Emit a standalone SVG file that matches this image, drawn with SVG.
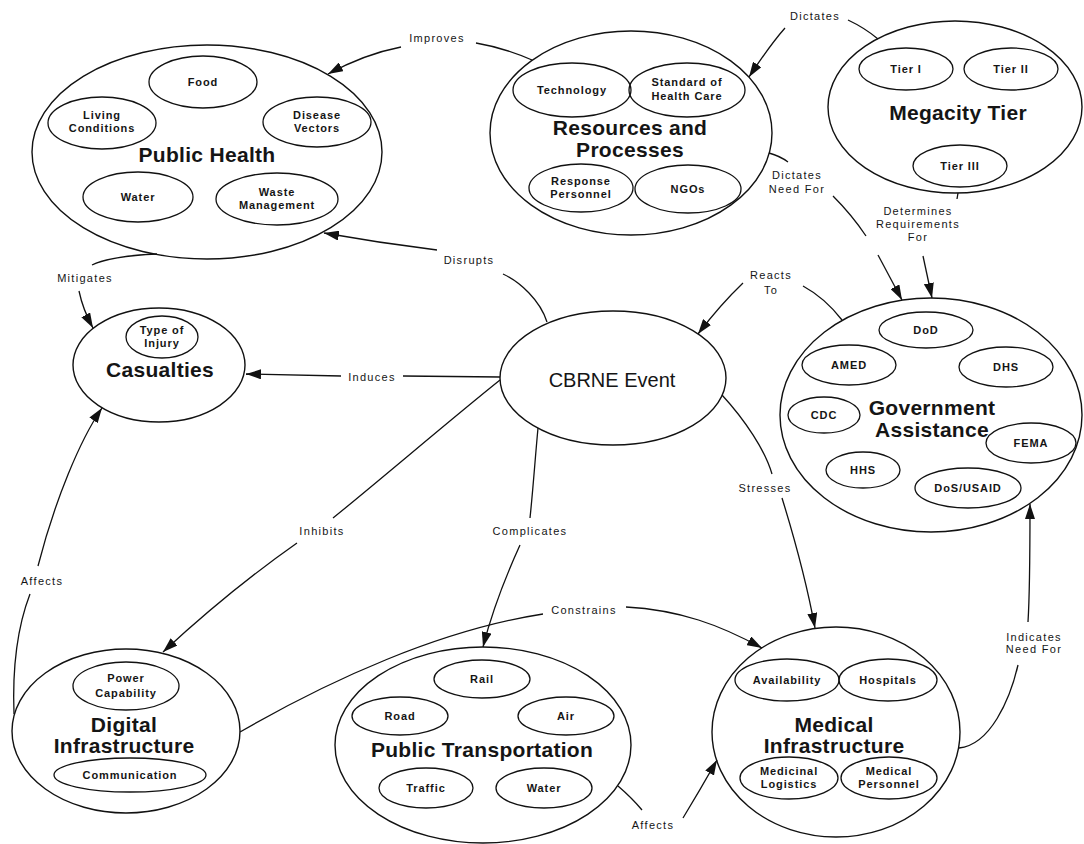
<svg xmlns="http://www.w3.org/2000/svg" width="1084" height="844" viewBox="0 0 1084 844">
<defs>
<style>
.o{fill:none;stroke:#111;stroke-width:1.4}
.i{fill:none;stroke:#111;stroke-width:1.3}
.c{fill:none;stroke:#111;stroke-width:1.3}
.t{font-family:"Liberation Sans",Arial,sans-serif;font-size:21px;font-weight:bold;letter-spacing:0.3px;fill:#151515;text-anchor:middle}
.ev{font-family:"Liberation Sans",Arial,sans-serif;font-size:20px;fill:#151515;text-anchor:middle}
.s{font-family:"Liberation Sans",Arial,sans-serif;font-size:11px;font-weight:bold;letter-spacing:0.9px;fill:#151515;text-anchor:middle}
.l{font-family:"Liberation Sans",Arial,sans-serif;font-size:11px;letter-spacing:1.3px;fill:#151515;text-anchor:middle}
</style>
<marker id="ah" viewBox="0 0 15 10" refX="15" refY="5" markerWidth="15" markerHeight="10" orient="auto" markerUnits="userSpaceOnUse">
<path d="M0,0 L15,5 L0,10 z" fill="#111"/>
</marker>
</defs>
<rect width="1084" height="844" fill="#fff"/>

<g id="connectors">
<!-- Improves -->
<path class="c" d="M532,60 Q505,48 476,43"/>
<path class="c" d="M401,47 Q365,54 328,74" marker-end="url(#ah)"/>
<text class="l" x="437" y="42">Improves</text>
<!-- Disrupts -->
<path class="c" d="M547,322 C540,300 520,282 503,274"/>
<path class="c" d="M437,250 Q380,243 324,233" marker-end="url(#ah)"/>
<text class="l" x="469" y="264">Disrupts</text>
<!-- Induces -->
<path class="c" d="M500,377 L403,376"/>
<path class="c" d="M341,376 L246,374" marker-end="url(#ah)"/>
<text class="l" x="372" y="381">Induces</text>
<!-- Inhibits -->
<path class="c" d="M500,380 C450,420 380,480 333,518"/>
<path class="c" d="M297,543 Q230,590 163,652" marker-end="url(#ah)"/>
<text class="l" x="322" y="535">Inhibits</text>
<!-- Mitigates -->
<path class="c" d="M157,254 Q110,256 92,265"/>
<path class="c" d="M79,291 Q83,310 93,328" marker-end="url(#ah)"/>
<text class="l" x="85" y="282">Mitigates</text>
<!-- Affects (left) -->
<path class="c" d="M14,714 C12,660 20,620 30,594"/>
<path class="c" d="M38,566 C55,500 80,440 102,408" marker-end="url(#ah)"/>
<text class="l" x="42" y="585">Affects</text>
<!-- Complicates -->
<path class="c" d="M538,428 C535,460 533,490 530,518"/>
<path class="c" d="M520,545 Q495,600 483,647" marker-end="url(#ah)"/>
<text class="l" x="530" y="535">Complicates</text>
<!-- Stresses -->
<path class="c" d="M722,395 C745,420 765,450 772,474"/>
<path class="c" d="M782,498 C795,540 808,590 815,628" marker-end="url(#ah)"/>
<text class="l" x="765" y="492">Stresses</text>
<!-- Constrains -->
<path class="c" d="M240,732 C330,680 440,630 543,614"/>
<path class="c" d="M626,607 C680,610 720,625 762,648" marker-end="url(#ah)"/>
<text class="l" x="584" y="614">Constrains</text>
<!-- Affects (bottom) -->
<path class="c" d="M618,786 Q632,798 642,810"/>
<path class="c" d="M683,818 Q700,790 717,760" marker-end="url(#ah)"/>
<text class="l" x="653" y="829">Affects</text>
<!-- Indicates Need For -->
<path class="c" d="M959,748 C990,745 1010,700 1018,665"/>
<path class="c" d="M1028,622 C1030,590 1030,550 1030,504" marker-end="url(#ah)"/>
<text class="l" x="1034" y="641">Indicates</text>
<text class="l" x="1034" y="653">Need For</text>
<!-- Reacts To -->
<path class="c" d="M842,320 Q825,298 803,286"/>
<path class="c" d="M743,283 Q720,305 698,334" marker-end="url(#ah)"/>
<text class="l" x="771" y="279">Reacts</text>
<text class="l" x="771" y="294">To</text>
<!-- Dictates -->
<path class="c" d="M878,39 Q865,28 848,20"/>
<path class="c" d="M785,28 Q770,45 749,77" marker-end="url(#ah)"/>
<text class="l" x="815" y="20">Dictates</text>
<!-- Dictates Need For -->
<path class="c" d="M769,153 Q780,156 788,162"/>
<path class="c" d="M833,196 Q852,215 866,236"/>
<path class="c" d="M878,255 L902,300" marker-end="url(#ah)"/>
<text class="l" x="797" y="179">Dictates</text>
<text class="l" x="797" y="193">Need For</text>
<!-- Determines Requirements For -->
<path class="c" d="M958,193 L957,199"/>
<path class="c" d="M923,256 L932,298" marker-end="url(#ah)"/>
<text class="l" x="918" y="215">Determines</text>
<text class="l" x="918" y="228">Requirements</text>
<text class="l" x="918" y="241">For</text>
</g>

<g id="public-health">
<ellipse class="o" cx="207" cy="152" rx="175" ry="107"/>
<ellipse class="i" cx="203" cy="82" rx="54" ry="26"/>
<text class="s" x="203" y="86">Food</text>
<ellipse class="i" cx="102" cy="123" rx="54" ry="26"/>
<text class="s" x="102" y="119">Living</text>
<text class="s" x="102" y="132">Conditions</text>
<ellipse class="i" cx="317" cy="122" rx="54" ry="25"/>
<text class="s" x="317" y="119">Disease</text>
<text class="s" x="317" y="132">Vectors</text>
<text class="t" x="207" y="162">Public Health</text>
<ellipse class="i" cx="138" cy="197" rx="55" ry="25"/>
<text class="s" x="138" y="201">Water</text>
<ellipse class="i" cx="277" cy="199" rx="61" ry="26"/>
<text class="s" x="277" y="196">Waste</text>
<text class="s" x="277" y="209">Management</text>
</g>

<g id="resources">
<ellipse class="o" cx="631" cy="133" rx="141" ry="102"/>
<ellipse class="i" cx="572" cy="90" rx="59" ry="27"/>
<text class="s" x="572" y="94">Technology</text>
<ellipse class="i" cx="687" cy="90" rx="58" ry="27"/>
<text class="s" x="687" y="86">Standard of</text>
<text class="s" x="687" y="100">Health Care</text>
<text class="t" x="630" y="135">Resources and</text>
<text class="t" x="630" y="157">Processes</text>
<ellipse class="i" cx="581" cy="188" rx="52" ry="24"/>
<text class="s" x="581" y="185">Response</text>
<text class="s" x="581" y="198">Personnel</text>
<ellipse class="i" cx="688" cy="189" rx="53" ry="24"/>
<text class="s" x="688" y="193">NGOs</text>
</g>

<g id="megacity">
<ellipse class="o" cx="955" cy="107" rx="127" ry="86"/>
<ellipse class="i" cx="906" cy="69" rx="47" ry="21"/>
<text class="s" x="906" y="73">Tier I</text>
<ellipse class="i" cx="1011" cy="69" rx="47" ry="21"/>
<text class="s" x="1011" y="73">Tier II</text>
<text class="t" x="958" y="120">Megacity Tier</text>
<ellipse class="i" cx="960" cy="166" rx="47" ry="21"/>
<text class="s" x="960" y="170">Tier III</text>
</g>

<g id="casualties">
<ellipse class="o" cx="159" cy="365" rx="86" ry="57"/>
<ellipse class="i" cx="162" cy="337" rx="36" ry="21"/>
<text class="s" x="162" y="334">Type of</text>
<text class="s" x="162" y="347">Injury</text>
<text class="t" x="160" y="377">Casualties</text>
</g>

<g id="cbrne">
<ellipse class="o" cx="613" cy="378" rx="113" ry="67"/>
<text class="ev" x="612" y="387">CBRNE Event</text>
</g>

<g id="government">
<ellipse class="o" cx="931" cy="415" rx="151" ry="117"/>
<ellipse class="i" cx="926" cy="330" rx="47" ry="18"/>
<text class="s" x="926" y="334">DoD</text>
<ellipse class="i" cx="849" cy="365" rx="47" ry="20"/>
<text class="s" x="849" y="369">AMED</text>
<ellipse class="i" cx="1006" cy="367" rx="47" ry="20"/>
<text class="s" x="1006" y="371">DHS</text>
<ellipse class="i" cx="824" cy="415" rx="36" ry="18"/>
<text class="s" x="824" y="419">CDC</text>
<text class="t" x="932" y="415">Government</text>
<text class="t" x="932" y="437">Assistance</text>
<ellipse class="i" cx="1031" cy="443" rx="45" ry="20"/>
<text class="s" x="1031" y="447">FEMA</text>
<ellipse class="i" cx="863" cy="470" rx="37" ry="18"/>
<text class="s" x="863" y="474">HHS</text>
<ellipse class="i" cx="968" cy="488" rx="53" ry="20"/>
<text class="s" x="968" y="492">DoS/USAID</text>
</g>

<g id="digital">
<ellipse class="o" cx="126" cy="731" rx="114" ry="82"/>
<ellipse class="i" cx="126" cy="686" rx="53" ry="24"/>
<text class="s" x="126" y="682">Power</text>
<text class="s" x="126" y="697">Capability</text>
<text class="t" x="124" y="732">Digital</text>
<text class="t" x="124" y="753">Infrastructure</text>
<ellipse class="i" cx="130" cy="775" rx="76" ry="17"/>
<text class="s" x="130" y="779">Communication</text>
</g>

<g id="transportation">
<ellipse class="o" cx="483" cy="745" rx="148" ry="98"/>
<ellipse class="i" cx="482" cy="679" rx="48" ry="19"/>
<text class="s" x="482" y="683">Rail</text>
<ellipse class="i" cx="400" cy="716" rx="48" ry="19"/>
<text class="s" x="400" y="720">Road</text>
<ellipse class="i" cx="566" cy="716" rx="48" ry="19"/>
<text class="s" x="566" y="720">Air</text>
<text class="t" x="482" y="757">Public Transportation</text>
<ellipse class="i" cx="426" cy="788" rx="47" ry="20"/>
<text class="s" x="426" y="792">Traffic</text>
<ellipse class="i" cx="544" cy="788" rx="48" ry="20"/>
<text class="s" x="544" y="792">Water</text>
</g>

<g id="medical">
<ellipse class="o" cx="836" cy="732" rx="124" ry="105"/>
<ellipse class="i" cx="787" cy="680" rx="52" ry="21"/>
<text class="s" x="787" y="684">Availability</text>
<ellipse class="i" cx="888" cy="680" rx="49" ry="21"/>
<text class="s" x="888" y="684">Hospitals</text>
<text class="t" x="834" y="732">Medical</text>
<text class="t" x="834" y="753">Infrastructure</text>
<ellipse class="i" cx="789" cy="778" rx="49" ry="21"/>
<text class="s" x="789" y="775">Medicinal</text>
<text class="s" x="789" y="788">Logistics</text>
<ellipse class="i" cx="889" cy="778" rx="48" ry="21"/>
<text class="s" x="889" y="775">Medical</text>
<text class="s" x="889" y="788">Personnel</text>
</g>
</svg>
